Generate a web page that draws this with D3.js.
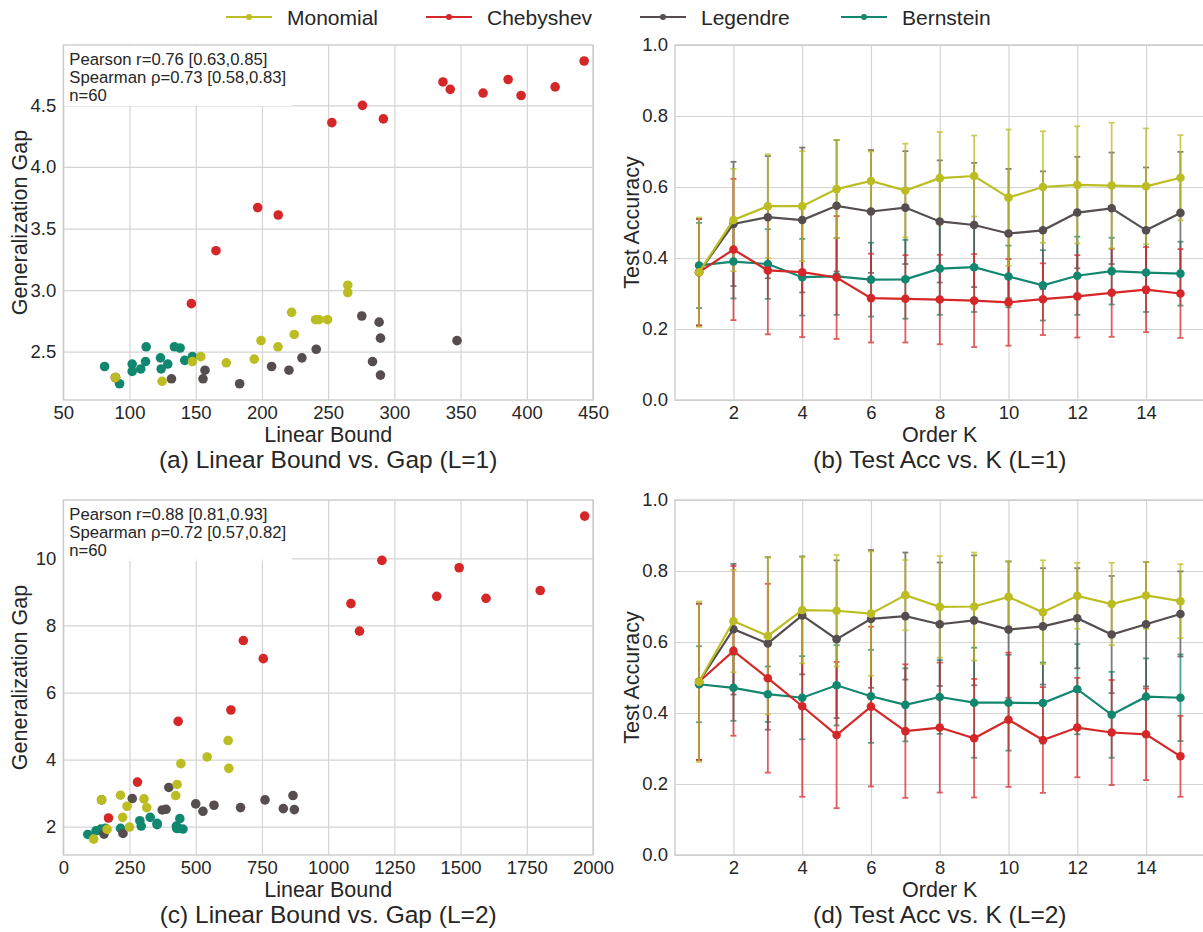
<!DOCTYPE html>
<html>
<head>
<meta charset="utf-8">
<script src="https://cdn.jsdelivr.net/npm/d3@7"></script>
<style>
body { margin: 0; background: #fff; }
text { font-family: "Liberation Sans", Arial, sans-serif; fill: #262626; }
</style>
</head>
<body>
<div class="canvas"></div>
<script>
// settings
const svgWidth = 1203
const svgHeight = 932
const colors = {Monomial: "#bcbd22", Chebyshev: "#d62728", Legendre: "#564e4e", Bernstein: "#12876f"}
const bases = ["Monomial", "Chebyshev", "Legendre", "Bernstein"]
const drawOrder = ["Bernstein", "Legendre", "Chebyshev", "Monomial"]
const gridColor = "#d4d4d4"

// ---- data: scatter (linear bound, generalization gap) ----
const gapL1Monomial = [[89.4,2.29],[124.6,2.26],[147.5,2.42],[153.8,2.46],[173.1,2.41],[194.2,2.44],[199.3,2.59],[212.1,2.54],[222.4,2.82],[224.4,2.64],[240.5,2.76],[243.0,2.76],[249.5,2.76],[264.8,3.04],[264.8,2.98]]
const gapL1Chebyshev = [[89.4,2.29],[146.7,2.89],[165.3,3.32],[196.8,3.67],[212.3,3.61],[252.8,4.36],[275.9,4.50],[291.7,4.39],[336.7,4.69],[342.2,4.63],[367.0,4.60],[385.9,4.71],[395.7,4.58],[421.4,4.65],[443.3,4.86]]
const gapL1Legendre = [[89.4,2.29],[131.7,2.28],[155.5,2.28],[157.0,2.35],[183.2,2.24],[207.3,2.38],[220.4,2.35],[230.2,2.45],[241.0,2.52],[275.4,2.79],[283.5,2.42],[288.5,2.74],[289.5,2.61],[289.5,2.31],[347.3,2.59]]
const gapL1Bernstein = [[81.2,2.38],[92.5,2.24],[102.0,2.40],[102.0,2.34],[108.5,2.36],[112.1,2.42],[112.6,2.54],[123.4,2.45],[123.9,2.36],[128.9,2.40],[133.9,2.54],[138.2,2.53],[141.7,2.43],[147.5,2.46]]

const gapL2Monomial = [[114.6,1.63],[144.5,2.80],[165.4,1.92],[216,2.94],[224,2.28],[240.9,2.61],[250,1.99],[304.7,2.83],[315.1,2.57],[424.5,2.93],[429.7,3.26],[444,3.88],[543,4.08],[622.4,4.57],[625,3.74]]
const gapL2Chebyshev = [[170.6,2.26],[280,3.33],[433.6,5.14],[632.8,5.48],[679.7,7.55],[755.2,7.01],[1086,8.65],[1118.4,7.83],[1203,9.94],[1410,8.87],[1494.7,9.72],[1596,8.81],[1800.7,9.04],[1968.6,11.26]]
const gapL2Legendre = [[144.5,2.80],[153.7,1.78],[225.3,1.80],[260.4,2.84],[373.7,2.50],[388,2.52],[398.5,3.17],[500,2.68],[527.3,2.46],[569,2.64],[669.2,2.57],[761.7,2.80],[830.7,2.54],[867.2,2.93],[872.4,2.51]]
const gapL2Bernstein = [[92.5,1.77],[123.7,1.88],[141.9,1.93],[158.9,1.95],[216.2,1.95],[289,2.18],[294.3,2.02],[328.1,2.28],[354.2,2.10],[354.2,2.06],[427,2.02],[428,1.95],[434.8,1.95],[440,2.24],[451.8,1.93]]

// ---- data: test accuracy vs order K (mean, std) ----
const orders = [1,2,3,4,5,6,7,8,9,10,11,12,13,14,15]

const accL1Monomial = [0.360,0.507,0.546,0.546,0.594,0.617,0.590,0.625,0.631,0.570,0.600,0.606,0.604,0.602,0.626]
const stdL1Monomial = [0.154,0.144,0.146,0.155,0.138,0.083,0.132,0.130,0.114,0.192,0.157,0.165,0.177,0.163,0.120]
const accL1Chebyshev = [0.360,0.424,0.365,0.360,0.345,0.287,0.285,0.283,0.280,0.275,0.284,0.292,0.302,0.311,0.300]
const stdL1Chebyshev = [0.150,0.199,0.180,0.183,0.173,0.125,0.123,0.126,0.131,0.122,0.101,0.116,0.124,0.120,0.125]
const accL1Legendre = [0.360,0.496,0.515,0.507,0.547,0.531,0.542,0.503,0.493,0.469,0.478,0.528,0.540,0.478,0.527]
const stdL1Legendre = [0.150,0.175,0.172,0.204,0.185,0.173,0.159,0.172,0.175,0.182,0.166,0.157,0.157,0.177,0.172]
const accL1Bernstein = [0.379,0.390,0.383,0.346,0.348,0.339,0.340,0.370,0.374,0.348,0.323,0.350,0.363,0.359,0.356]
const stdL1Bernstein = [0.120,0.104,0.098,0.108,0.108,0.104,0.111,0.130,0.126,0.087,0.099,0.110,0.094,0.111,0.090]

const accL2Monomial = [0.488,0.659,0.617,0.690,0.688,0.680,0.732,0.699,0.700,0.727,0.684,0.730,0.707,0.731,0.715]
const stdL2Monomial = [0.226,0.144,0.221,0.150,0.157,0.175,0.099,0.143,0.152,0.100,0.146,0.093,0.116,0.094,0.104]
const accL2Chebyshev = [0.488,0.575,0.498,0.419,0.338,0.418,0.349,0.359,0.329,0.381,0.324,0.359,0.345,0.340,0.278]
const stdL2Chebyshev = [0.220,0.239,0.266,0.255,0.206,0.225,0.188,0.183,0.167,0.189,0.149,0.140,0.148,0.129,0.114]
const accL2Legendre = [0.488,0.636,0.596,0.675,0.608,0.665,0.673,0.650,0.661,0.635,0.644,0.667,0.621,0.650,0.679]
const stdL2Legendre = [0.220,0.184,0.243,0.166,0.222,0.194,0.179,0.174,0.183,0.192,0.164,0.141,0.165,0.175,0.120]
const accL2Bernstein = [0.481,0.471,0.453,0.443,0.478,0.447,0.423,0.445,0.429,0.429,0.428,0.467,0.395,0.446,0.443]
const stdL2Bernstein = [0.107,0.093,0.078,0.117,0.113,0.131,0.103,0.104,0.155,0.135,0.114,0.127,0.121,0.108,0.122]

// ---- tick labels ----
const ticksBoundL1 = [50,100,150,200,250,300,350,400,450]
const ticksGapL1 = [2.5,3.0,3.5,4.0,4.5]
const ticksBoundL2 = [0,250,500,750,1000,1250,1500,1750,2000]
const ticksGapL2 = [2,4,6,8,10]
const ticksOrder = [2,4,6,8,10,12,14]
const ticksAcc = [0.0,0.2,0.4,0.6,0.8,1.0]

const statsL1 = ["Pearson r=0.76 [0.63,0.85]", "Spearman \u03c1=0.73 [0.58,0.83]", "n=60"]
const statsL2 = ["Pearson r=0.88 [0.81,0.93]", "Spearman \u03c1=0.72 [0.57,0.82]", "n=60"]

// add svg to page
const svg = d3.select(".canvas")
    .append("svg")
    .attr("width", svgWidth)
    .attr("height", svgHeight)

// shared frame: grid, spines, ticks, labels
function drawFrame(g, x, y, xTicks, yTicks, yFmt, xLabel, yLabel, title) {
    const [x0, x1] = x.range()
    const [y1, y0] = y.range()

    g.append("rect")
        .attr("x", x0).attr("y", y0)
        .attr("width", x1 - x0).attr("height", y1 - y0)
        .attr("fill", "#fff")

    g.append("g")
        .attr("transform", `translate(0, ${y1})`)
        .call(d3.axisBottom(x).tickValues(xTicks).tickSize(-(y1 - y0)).tickPadding(6).tickFormat(d3.format("d")))
        .call(a => a.select(".domain").remove())
        .call(a => a.selectAll("line").attr("stroke", gridColor).attr("stroke-width", 1.2))
        .call(a => a.selectAll("text").attr("font-size", 18.5).attr("fill", "#262626").attr("font-family", null))

    g.append("g")
        .attr("transform", `translate(${x0}, 0)`)
        .call(d3.axisLeft(y).tickValues(yTicks).tickSize(-(x1 - x0)).tickPadding(7).tickFormat(yFmt))
        .call(a => a.select(".domain").remove())
        .call(a => a.selectAll("line").attr("stroke", gridColor).attr("stroke-width", 1.2))
        .call(a => a.selectAll("text").attr("font-size", 18.5).attr("fill", "#262626").attr("font-family", null))

    g.append("rect")
        .attr("x", x0).attr("y", y0)
        .attr("width", x1 - x0).attr("height", y1 - y0)
        .attr("fill", "none")
        .attr("stroke", "#cccccc")
        .attr("stroke-width", 1.4)

    const mid = (x0 + x1) / 2
    g.append("text")
        .attr("x", mid).attr("y", y1 + 42)
        .attr("text-anchor", "middle")
        .attr("font-size", 21.5)
        .text(xLabel)

    g.append("text")
        .attr("transform", `translate(${x0 - 36}, ${(y0 + y1) / 2}) rotate(-90)`)
        .attr("text-anchor", "middle")
        .attr("font-size", 21.5)
        .text(yLabel)

    g.append("text")
        .attr("x", mid).attr("y", y1 + 68)
        .attr("text-anchor", "middle")
        .attr("font-size", 24.5)
        .text(title)
}

function scatterPanel(opt) {
    const g = svg.append("g")
    const x = d3.scaleLinear().domain(opt.xDomain).range(opt.xRange)
    const y = d3.scaleLinear().domain(opt.yDomain).range(opt.yRange)

    drawFrame(g, x, y, opt.xTicks, opt.yTicks, opt.yFmt, "Linear Bound", "Generalization Gap", opt.title)

    drawOrder.forEach(b => {
        g.append("g").selectAll("circle")
            .data(opt.series[b])
            .enter()
            .append("circle")
                .attr("cx", d => x(d[0]))
                .attr("cy", d => y(d[1]))
                .attr("r", 4.8)
                .attr("fill", colors[b])
    })

    // stats box
    const bx = opt.xRange[0] + 1
    const by = opt.yRange[1] + 1
    g.append("rect")
        .attr("x", bx).attr("y", by)
        .attr("width", 228).attr("height", 60)
        .attr("fill", "#fff")
        .attr("opacity", 0.92)

    g.append("g").selectAll("text")
        .data(opt.stats)
        .enter()
        .append("text")
            .attr("x", bx + 5)
            .attr("y", (d, i) => by + 19 + i * 18.2)
            .attr("font-size", 16.7)
            .text(d => d)
}

function linePanel(opt) {
    const g = svg.append("g")
    const x = d3.scaleLinear().domain([0.3, 15.7]).range(opt.xRange)
    const y = d3.scaleLinear().domain([0, 1]).range(opt.yRange)

    drawFrame(g, x, y, ticksOrder, ticksAcc, d3.format(".1f"), "Order K", "Test Accuracy", opt.title)

    // error bars first
    drawOrder.forEach(b => {
        const rows = orders.map((k, i) => ({k: k, m: opt.mean[b][i], s: opt.std[b][i]}))
        const eg = g.append("g")
            .attr("stroke", colors[b])
            .attr("stroke-width", 1.8)
            .attr("opacity", 0.75)
        eg.selectAll(".bar").data(rows).enter().append("line")
            .attr("x1", d => x(d.k)).attr("x2", d => x(d.k))
            .attr("y1", d => y(d.m - d.s)).attr("y2", d => y(d.m + d.s))
        eg.selectAll(".capTop").data(rows).enter().append("line")
            .attr("x1", d => x(d.k) - 3).attr("x2", d => x(d.k) + 3)
            .attr("y1", d => y(d.m + d.s)).attr("y2", d => y(d.m + d.s))
        eg.selectAll(".capBot").data(rows).enter().append("line")
            .attr("x1", d => x(d.k) - 3).attr("x2", d => x(d.k) + 3)
            .attr("y1", d => y(d.m - d.s)).attr("y2", d => y(d.m - d.s))
    })

    drawOrder.forEach(b => {
        const rows = orders.map((k, i) => [k, opt.mean[b][i]])
        g.append("path")
            .datum(rows)
            .attr("fill", "none")
            .attr("stroke", colors[b])
            .attr("stroke-width", 2.2)
            .attr("d", d3.line().x(d => x(d[0])).y(d => y(d[1])))
        g.append("g").selectAll("circle")
            .data(rows)
            .enter()
            .append("circle")
                .attr("cx", d => x(d[0]))
                .attr("cy", d => y(d[1]))
                .attr("r", 4.3)
                .attr("fill", colors[b])
    })
}

scatterPanel({
    xDomain: [50, 450], xRange: [63.3, 593],
    yDomain: [2.108, 4.99], yRange: [400, 45],
    xTicks: ticksBoundL1, yTicks: ticksGapL1, yFmt: d3.format(".1f"),
    series: {Monomial: gapL1Monomial, Chebyshev: gapL1Chebyshev, Legendre: gapL1Legendre, Bernstein: gapL1Bernstein},
    stats: statsL1,
    title: "(a) Linear Bound vs. Gap (L=1)"
})

linePanel({
    xRange: [675, 1204.5], yRange: [400, 45],
    mean: {Monomial: accL1Monomial, Chebyshev: accL1Chebyshev, Legendre: accL1Legendre, Bernstein: accL1Bernstein},
    std: {Monomial: stdL1Monomial, Chebyshev: stdL1Chebyshev, Legendre: stdL1Legendre, Bernstein: stdL1Bernstein},
    title: "(b) Test Acc vs. K (L=1)"
})

scatterPanel({
    xDomain: [0, 2000], xRange: [63.3, 593],
    yDomain: [1.157, 11.74], yRange: [855, 500],
    xTicks: ticksBoundL2, yTicks: ticksGapL2, yFmt: d3.format("d"),
    series: {Monomial: gapL2Monomial, Chebyshev: gapL2Chebyshev, Legendre: gapL2Legendre, Bernstein: gapL2Bernstein},
    stats: statsL2,
    title: "(c) Linear Bound vs. Gap (L=2)"
})

linePanel({
    xRange: [675, 1204.5], yRange: [855, 500],
    mean: {Monomial: accL2Monomial, Chebyshev: accL2Chebyshev, Legendre: accL2Legendre, Bernstein: accL2Bernstein},
    std: {Monomial: stdL2Monomial, Chebyshev: stdL2Chebyshev, Legendre: stdL2Legendre, Bernstein: stdL2Bernstein},
    title: "(d) Test Acc vs. K (L=2)"
})

// legend
const legendX = [226, 426, 640, 841]
const legend = svg.append("g")
bases.forEach((b, i) => {
    const lg = legend.append("g").attr("transform", `translate(${legendX[i]}, 17)`)
    lg.append("line")
        .attr("x1", 0).attr("x2", 46)
        .attr("stroke", colors[b])
        .attr("stroke-width", 2.2)
    lg.append("circle")
        .attr("cx", 23).attr("r", 3)
        .attr("fill", colors[b])
    lg.append("text")
        .attr("x", 61).attr("y", 7.5)
        .attr("font-size", 21)
        .text(b)
})
</script>
</body>
</html>
